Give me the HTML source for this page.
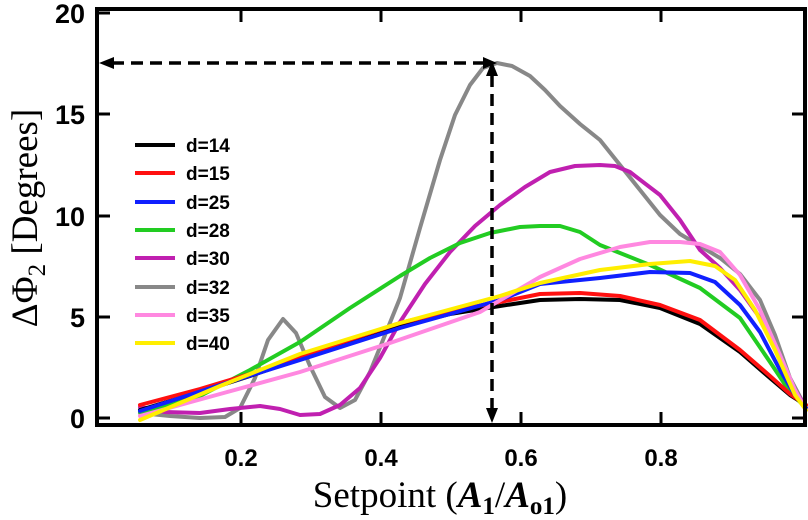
<!DOCTYPE html>
<html><head><style>body{margin:0;background:#fff}svg{display:block}</style></head>
<body>
<svg width="808" height="520" xmlns="http://www.w3.org/2000/svg" style="font-family:'Liberation Sans',sans-serif">
<g fill="none" stroke-width="4" stroke-linecap="round" stroke-linejoin="round">
<polyline stroke="#888" points="140,413 170,416 200,418 225,417 240,408 255,378 268,340 283,319 296,333 310,366 325,397 340,408 355,400 370,372 385,335 400,298 420,228 440,160 455,115 470,85 483,68 497,63 512,66 530,76 545,90 560,106 580,124 600,140 620,165 640,190 660,215 680,234 700,246 720,258 740,274 760,300 775,335 790,378 806,408"/>
<polyline stroke="#c020b0" points="140,407 165,412 200,413 230,409 260,406 280,409 300,415 320,414 340,405 360,388 380,358 400,322 425,284 450,252 475,226 500,205 525,187 550,172 575,166 600,165 615,166 630,172 660,195 680,220 700,250 720,268 740,290 760,318 780,358 795,390 806,408"/>
<polyline stroke="#22cc22" points="140,412 170,405 200,396 250,370 300,342 350,308 400,276 430,258 460,243 490,233 520,227 540,226 560,226 580,232 600,245 650,265 700,288 740,318 770,362 790,392 806,408"/>
<polyline stroke="#000" points="140,410 200,392 250,376 325,350 400,326 450,314 500,306 540,300 580,299 620,300 660,308 700,324 740,352 770,378 790,395 806,405"/>
<polyline stroke="#ff1010" points="140,405 200,389 250,374 325,348 400,323 450,311 500,302 540,294 580,293 620,296 660,305 700,320 740,350 770,376 790,394 806,405"/>
<polyline stroke="#1020ff" points="140,411 220,385 300,360 400,328 500,300 540,284 600,278 650,272 690,273 715,282 740,305 760,332 780,370 795,395 806,408"/>
<polyline stroke="#ff88e0" points="140,416 220,394 300,372 390,343 480,312 540,277 580,259 620,247 650,242 680,242 700,244 720,252 740,275 760,310 780,355 795,390 806,410"/>
<polyline stroke="#ffee00" points="140,420 220,386 300,354 400,323 500,296 540,283 600,270 650,264 690,261 715,266 735,280 755,310 775,350 795,395 806,410"/>
</g>
<rect x="97" y="9" width="708" height="416" fill="none" stroke="#000" stroke-width="4"/>
<g stroke="#000" stroke-width="3">
<line x1="97" y1="418" x2="110" y2="418"/><line x1="97" y1="317" x2="110" y2="317"/><line x1="97" y1="216" x2="110" y2="216"/><line x1="97" y1="114" x2="110" y2="114"/><line x1="97" y1="13" x2="110" y2="13"/>
<line x1="241" y1="425" x2="241" y2="412"/><line x1="381" y1="425" x2="381" y2="412"/><line x1="521" y1="425" x2="521" y2="412"/><line x1="661" y1="425" x2="661" y2="412"/>
<line x1="241" y1="9" x2="241" y2="22"/><line x1="381" y1="9" x2="381" y2="22"/><line x1="521" y1="9" x2="521" y2="22"/><line x1="661" y1="9" x2="661" y2="22"/>
<line x1="805" y1="418" x2="792" y2="418"/><line x1="805" y1="216" x2="792" y2="216"/><line x1="805" y1="317" x2="792" y2="317"/><line x1="805" y1="114" x2="792" y2="114"/>
</g>
<g style="font-weight:bold;font-size:27px" text-anchor="end">
<text x="85" y="428">0</text><text x="85" y="327">5</text><text x="85" y="226">10</text><text x="85" y="124">15</text><text x="85" y="23">20</text>
</g>
<g style="font-weight:bold;font-size:24px" text-anchor="middle">
<text x="241" y="466">0.2</text><text x="381" y="466">0.4</text><text x="521" y="466">0.6</text><text x="661" y="466">0.8</text>
</g>
<text x="440" y="507" text-anchor="middle" style="font-family:'Liberation Serif',serif;font-size:37px">Setpoint (<tspan style="font-style:italic;font-weight:bold">A</tspan><tspan dy="7" style="font-size:25px;font-weight:bold">1</tspan><tspan dy="-7">/</tspan><tspan style="font-style:italic;font-weight:bold">A</tspan><tspan dy="7" style="font-size:25px;font-weight:bold">o1</tspan><tspan dy="-7">)</tspan></text>
<text transform="translate(37,218) rotate(-90)" text-anchor="middle" style="font-family:'Liberation Serif',serif;font-size:37px">ΔΦ<tspan dy="8" style="font-size:25px">2</tspan><tspan dy="-8"> [Degrees]</tspan></text>
<g stroke="#000" stroke-width="3.5" stroke-dasharray="12,7" fill="none">
<line x1="112" y1="63" x2="484" y2="63"/><line x1="492" y1="75" x2="492" y2="410"/>
</g>
<polygon points="99,63 114,57 114,69" fill="#000"/>
<polygon points="497,63 483,57 483,69" fill="#000"/>
<polygon points="492,61 486,76 498,76" fill="#000"/>
<polygon points="492,423 486,408 498,408" fill="#000"/>
<g stroke-width="4">
<line x1="135" x2="175" y1="145" y2="145" stroke="#000"/>
<line x1="135" x2="175" y1="173" y2="173" stroke="#ff1010"/>
<line x1="135" x2="175" y1="202" y2="202" stroke="#1020ff"/>
<line x1="135" x2="175" y1="230" y2="230" stroke="#22cc22"/>
<line x1="135" x2="175" y1="258" y2="258" stroke="#c020b0"/>
<line x1="135" x2="175" y1="287" y2="287" stroke="#888"/>
<line x1="135" x2="175" y1="315" y2="315" stroke="#ff88e0"/>
<line x1="135" x2="175" y1="343" y2="343" stroke="#ffee00"/>
</g>
<g style="font-weight:bold;font-size:19px">
<text x="186" y="152">d=14</text><text x="186" y="180">d=15</text><text x="186" y="209">d=25</text><text x="186" y="237">d=28</text>
<text x="186" y="265">d=30</text><text x="186" y="294">d=32</text><text x="186" y="322">d=35</text><text x="186" y="350">d=40</text>
</g>
</svg>
</body></html>
